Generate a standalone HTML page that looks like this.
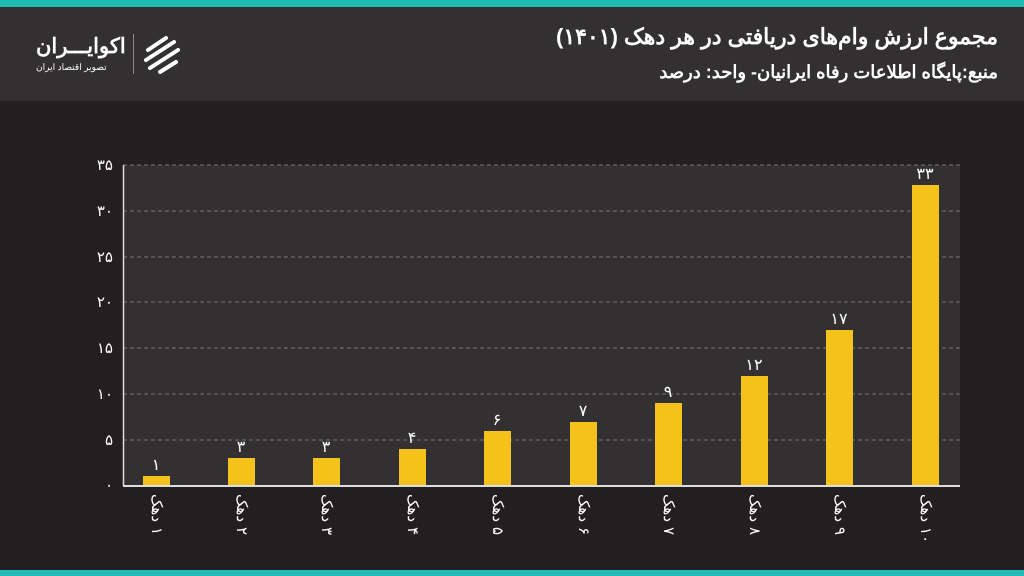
<!DOCTYPE html>
<html><head><meta charset="utf-8"><style>
body{margin:0;width:1024px;height:576px;background:#231f20;overflow:hidden;position:relative;font-family:"Liberation Sans","Noto Sans CJK SC",sans-serif;color:#fff}
.top{position:absolute;left:0;top:0;width:1024px;height:7px;background:#21bbb6}
.bot{position:absolute;left:0;top:570px;width:1024px;height:6px;background:#21bbb6}
.hdr{position:absolute;left:0;top:7px;width:1024px;height:94px;background:#333031}
.t1{position:absolute;right:26px;top:24px;font-size:22px;font-weight:bold;direction:rtl}
.t2{position:absolute;right:26px;top:62px;font-size:18px;font-weight:bold;direction:rtl}
.xl{position:absolute;top:494px;width:70px;height:18px;display:flex;direction:ltr;gap:5px;font-size:15px;line-height:18px;transform-origin:0 0;transform:rotate(90deg)}
</style></head><body>
<div class="top"></div><div class="hdr"></div><div class="bot"></div>
<div class="t1">مجموع ارزش وام‌های دریافتی در هر دهک (۱۴۰۱)</div>
<div class="t2">منبع:پایگاه اطلاعات رفاه ایرانیان- واحد: درصد</div>
<div style="position:absolute;left:36px;top:34px;font-size:21px;font-weight:bold;direction:rtl">اکوایـــران</div>
<div style="position:absolute;left:36px;top:62px;font-size:9px;direction:rtl">تصویر اقتصاد ایران</div>
<div style="position:absolute;left:133px;top:34px;width:1px;height:40px;background:#888"></div>
<svg style="position:absolute;left:140px;top:32px" width="44" height="44" viewBox="0 0 44 44"><g stroke="#fff" stroke-width="4" fill="none" stroke-linecap="round"><path d="M8 18 L26 6"/><path d="M6 28 L34 10"/><path d="M10 36 L38 18"/><path d="M20 40 L36 30"/></g></svg>
<svg width="1024" height="576" style="position:absolute;left:0;top:0" font-family="Liberation Sans, Noto Sans CJK SC, sans-serif">
<rect x="123" y="165" width="837" height="320" fill="#333031"/>
<g stroke="#777" stroke-dasharray="4,3" stroke-width="1">
<line x1="123" x2="960" y1="165" y2="165"/><line x1="123" x2="960" y1="211" y2="211"/><line x1="123" x2="960" y1="257" y2="257"/><line x1="123" x2="960" y1="302" y2="302"/><line x1="123" x2="960" y1="348" y2="348"/><line x1="123" x2="960" y1="394" y2="394"/><line x1="123" x2="960" y1="440" y2="440"/></g>
<line x1="123.5" y1="165" x2="123.5" y2="486" stroke="#ddd" stroke-width="1.5"/>
<line x1="123" y1="486" x2="960" y2="486" stroke="#ddd" stroke-width="2"/>
<g fill="#fff" font-size="15" text-anchor="end">
<text x="113" y="170">۳۵</text><text x="113" y="216">۳۰</text><text x="113" y="262">۲۵</text><text x="113" y="307">۲۰</text><text x="113" y="353">۱۵</text><text x="113" y="399">۱۰</text><text x="113" y="445">۵</text><text x="113" y="490">۰</text></g>
<g fill="#f4c21a">
<rect x="143" y="476" width="27" height="9"/><rect x="228" y="458" width="27" height="27"/><rect x="313" y="458" width="27" height="27"/><rect x="399" y="449" width="27" height="36"/><rect x="484" y="431" width="27" height="54"/><rect x="570" y="422" width="27" height="63"/><rect x="655" y="403" width="27" height="82"/><rect x="741" y="376" width="27" height="109"/><rect x="826" y="330" width="27" height="155"/><rect x="912" y="185" width="27" height="300"/></g>
<g fill="#fff" font-size="16" text-anchor="middle">
<text x="156" y="470">۱</text><text x="241" y="452">۳</text><text x="326" y="452">۳</text><text x="412" y="443">۴</text><text x="497" y="425">۶</text><text x="583" y="416">۷</text><text x="668" y="397">۹</text><text x="754" y="370">۱۲</text><text x="839" y="324">۱۷</text><text x="925" y="179">۳۳</text></g>
</svg>
<div class="xl" style="left:165px"><span>دهک</span><span>۱</span></div>
<div class="xl" style="left:250px"><span>دهک</span><span>۲</span></div>
<div class="xl" style="left:335px"><span>دهک</span><span>۳</span></div>
<div class="xl" style="left:421px"><span>دهک</span><span>۴</span></div>
<div class="xl" style="left:506px"><span>دهک</span><span>۵</span></div>
<div class="xl" style="left:592px"><span>دهک</span><span>۶</span></div>
<div class="xl" style="left:677px"><span>دهک</span><span>۷</span></div>
<div class="xl" style="left:763px"><span>دهک</span><span>۸</span></div>
<div class="xl" style="left:848px"><span>دهک</span><span>۹</span></div>
<div class="xl" style="left:934px"><span>دهک</span><span>۱۰</span></div>
</body></html>
